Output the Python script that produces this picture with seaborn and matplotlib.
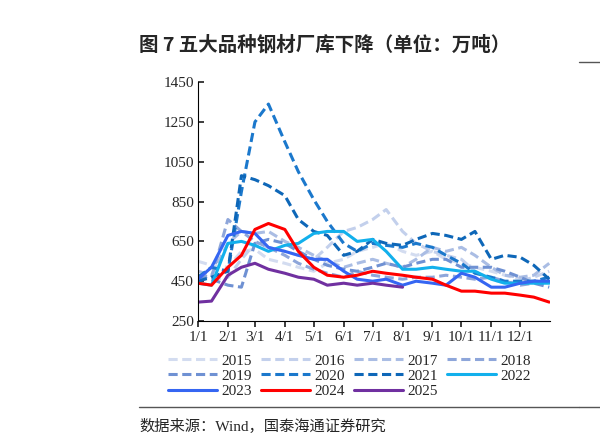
import numpy as np
import pandas as pd
import matplotlib
matplotlib.use("Agg")
import matplotlib.pyplot as plt
import seaborn as sns

# days of year for the sampled points (roughly 1st and 15th of each month)
days = [0, 14, 31, 45, 59, 73, 90, 104, 120, 134, 151, 165, 181, 195,
        212, 226, 243, 257, 273, 287, 304, 318, 334, 348, 364]
month_ticks = [0, 31, 59, 90, 120, 151, 181, 212, 243, 273, 304, 334]
month_labels = ["1/1", "2/1", "3/1", "4/1", "5/1", "6/1", "7/1", "8/1",
                "9/1", "10/1", "11/1", "12/1"]

y2015 = [550, 530, 520, 600, 610, 560, 540, 520, 500, 540, 560, 600, 620, 640,
         600, 580, 600, 560, 540, 520, 500, 480, 460, 450, 470]
y2016 = [470, 460, 470, 560, 640, 620, 600, 580, 560, 620, 700, 720, 760, 810,
         700, 640, 600, 580, 560, 500, 460, 440, 450, 470, 500]
y2017 = [500, 480, 640, 700, 690, 700, 650, 620, 580, 550, 520, 540, 560, 540,
         520, 560, 620, 600, 620, 580, 520, 480, 470, 480, 540]
y2018 = [480, 470, 760, 700, 650, 620, 580, 540, 510, 490, 470, 500, 480, 470,
         460, 470, 470, 480, 470, 460, 470, 450, 430, 440, 460]
y2019 = [470, 460, 430, 420, 640, 660, 640, 600, 560, 530, 510, 500, 520, 540,
         520, 540, 560, 560, 520, 520, 520, 500, 470, 440, 420]
y2020 = [470, 520, 500, 900, 1250, 1340, 1150, 1000, 860, 750, 640, 600, 640, 630,
         620, 640, 620, 580, 540, 490, 470, 450, 450, 450, 470]
y2021 = [450, 470, 500, 980, 960, 930, 880, 760, 700, 680, 580, 600, 660, 640,
         630, 660, 690, 680, 660, 700, 560, 580, 570, 530, 460]
y2022 = [440, 430, 640, 650, 630, 600, 630, 640, 690, 700, 700, 650, 660, 600,
         510, 510, 520, 510, 500, 500, 460, 440, 440, 440, 440]
y2023 = [460, 520, 680, 700, 690, 620, 600, 580, 560, 560, 500, 460, 450, 460,
         430, 450, 440, 430, 490, 470, 420, 420, 440, 450, 450]
y2024 = [440, 430, 520, 580, 710, 740, 710, 600, 520, 480, 470, 480, 500, 490,
         480, 470, 460, 430, 400, 400, 390, 390, 380, 370, 345]
y2025 = [345, 350, 480, 520, 540, 510, 490, 470, 460, 430, 440, 430, 440, 430,
         420] + [np.nan] * 10

years = ["2015", "2016", "2017", "2018", "2019", "2020", "2021", "2022", "2023", "2024", "2025"]
values = [y2015, y2016, y2017, y2018, y2019, y2020, y2021, y2022, y2023, y2024, y2025]
colors = ["#d3dcf0", "#c3d0ec", "#aabde4", "#8ea6da", "#6f91d3", "#1b78cc",
          "#0e67b8", "#12b0ec", "#3566f2", "#ff0000", "#7030a0"]
dashed = [True] * 7 + [False] * 4

sns.set_theme(style="white")
plt.rcParams["font.family"] = ["Liberation Serif", "Noto Sans CJK SC"]

fig = plt.figure(figsize=(6, 4.44), dpi=100)
ax = fig.add_axes([0.33, 0.277, 0.587, 0.538])

for yr, vals, col, ds in zip(years, values, colors, dashed):
    sns.lineplot(x=days, y=vals, ax=ax, color=col, lw=2.2, label=yr,
                 linestyle=(0, (3, 1.5)) if ds else "-")

ax.set_xlim(0, 365)
ax.set_ylim(250, 1450)
ax.set_yticks(range(250, 1451, 200))
ax.set_xticks(month_ticks)
ax.set_xticklabels(month_labels)
ax.tick_params(labelsize=11, length=4, direction="in", bottom=True, left=True, pad=3)
for s in ["top", "right"]:
    ax.spines[s].set_visible(False)
for s in ["left", "bottom"]:
    ax.spines[s].set_color("black")
    ax.spines[s].set_linewidth(0.8)
ax.set_xlabel("")
ax.set_ylabel("")
ax.tick_params(axis="x", direction="out")

# legend fills column-wise, so reorder to read row by row
handles, labels = ax.get_legend_handles_labels()
order = [0, 4, 8, 1, 5, 9, 2, 6, 10, 3, 7]
ax.legend([handles[i] for i in order], [labels[i] for i in order],
          loc="upper center", bbox_to_anchor=(0.43, -0.08), ncol=4, frameon=False,
          fontsize=11, handlelength=3.2, columnspacing=0.6, labelspacing=0.1,
          handletextpad=0.3)

fig.text(0.232, 0.885, "图 7 五大品种钢材厂库下降（单位：万吨）", fontsize=14,
         fontweight="bold", family=["Noto Sans CJK SC"])
fig.add_artist(plt.Line2D([0.965, 1.0], [0.86, 0.86], color="#555555", lw=1))
fig.add_artist(plt.Line2D([0.232, 0.965], [0.083, 0.083], color="#555555", lw=1))
fig.add_artist(plt.Line2D([0.965, 1.0], [0.083, 0.083], color="#555555", lw=1))
fig.text(0.232, 0.03, "数据来源：Wind，国泰海通证券研究", fontsize=11,
         family=["Liberation Serif", "Noto Sans CJK SC"])

fig.savefig("out.png", dpi=100)
